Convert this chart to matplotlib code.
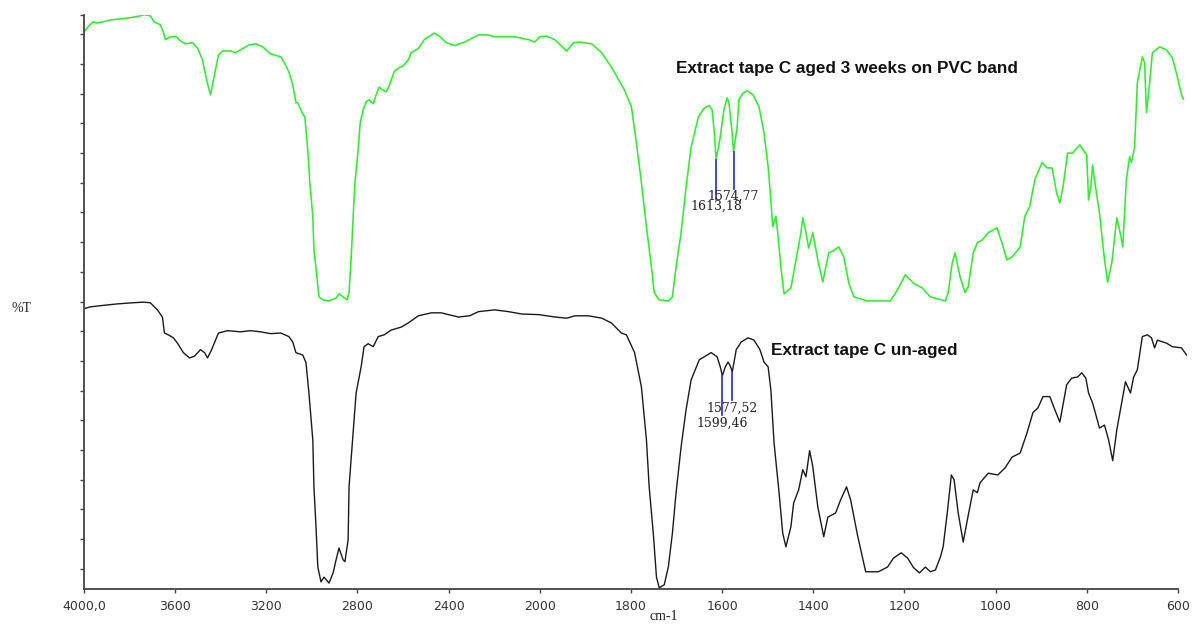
import numpy as np
import matplotlib
matplotlib.use("Agg")
import matplotlib.pyplot as plt

# wavenumber (cm-1) and %T
aged_wn = [4000, 3982, 3960, 3943, 3916, 3885, 3841, 3797, 3753, 3736, 3709, 3692, 3665, 3652, 3643,
           3621, 3595, 3577, 3555, 3524, 3502, 3480, 3462, 3445, 3427, 3410, 3392, 3357, 3335, 3313,
           3277, 3247, 3216, 3181, 3136, 3123, 3101, 3084, 3070, 3062, 3044, 3031, 3018, 3009, 2996,
           2991, 2978, 2969, 2951, 2925, 2894, 2881, 2863, 2846, 2837, 2828, 2819, 2811, 2797, 2788,
           2775, 2762, 2749, 2731, 2718, 2705, 2687, 2674, 2661, 2639, 2621, 2599, 2577, 2564, 2533,
           2507, 2463, 2441, 2410, 2374, 2330, 2269, 2225, 2198, 2145, 2110, 2048, 2022, 2000, 1985,
           1967, 1941, 1926, 1913, 1886, 1864, 1843, 1814, 1799, 1788, 1777, 1766, 1755, 1749, 1738,
           1718, 1709, 1701, 1690, 1679, 1668, 1652, 1639, 1628, 1622, 1617, 1613.18, 1605, 1596, 1589,
           1585, 1578, 1574.77, 1567, 1563, 1554, 1545, 1532, 1519, 1508, 1499, 1493, 1489, 1482, 1478,
           1471, 1464, 1449, 1438, 1427, 1423, 1416, 1410, 1401, 1390, 1379, 1366, 1357, 1344, 1333,
           1322, 1311, 1281, 1252, 1231, 1215, 1198, 1180, 1161, 1143, 1110, 1104, 1095, 1089, 1078,
           1067, 1060, 1049, 1040, 1029, 1016, 997, 986, 975, 964, 946, 936, 925, 914, 898,
           887, 876, 866, 859, 852, 842, 831, 815, 800, 796, 791, 787, 783, 772, 761,
           754, 745, 734, 728, 721, 713, 706, 702, 695, 689, 678, 673, 669, 662, 656,
           640, 625, 612, 601, 592, 588]
aged_t = [95.4, 96.3, 97.1, 96.9, 97.1, 97.4, 97.6, 97.8, 98.1, 98.3, 98.1, 97.1, 96.6, 95.4, 94.1,
          94.6, 94.6, 93.9, 93.4, 93.6, 92.7, 90.7, 87.3, 84.8, 88.2, 91.5, 92.2, 92.2, 91.9, 92.4,
          93.2, 93.4, 92.9, 91.7, 91.2, 90.4, 88.7, 86.5, 83.5, 83.5, 81.9, 81.1, 75.5, 70.0, 64.3,
          58.7, 54.2, 50.8, 50.3, 50.1, 50.6, 51.3, 50.8, 50.3, 51.5, 57.0, 64.3, 70.0, 75.5, 80.1,
          82.3, 83.6, 84.0, 83.3, 84.8, 86.1, 85.6, 85.3, 86.3, 88.7, 89.3, 89.7, 90.7, 91.9, 92.6,
          94.1, 95.2, 94.7, 93.6, 93.1, 93.7, 94.9, 94.9, 94.6, 94.6, 94.6, 94.1, 93.7, 94.6, 94.7,
          94.1, 92.2, 93.6, 93.7, 93.4, 91.9, 89.5, 85.6, 82.8, 76.7, 70.0, 62.6, 55.8, 51.5, 50.3,
          50.1, 50.8, 55.8, 61.6, 69.3, 76.0, 81.1, 82.6, 83.0, 82.3, 78.4, 73.9, 77.2, 82.3, 84.3,
          83.5, 78.4, 75.2, 79.4, 84.0, 85.1, 85.5, 84.8, 82.8, 78.4, 72.7, 67.1, 62.6, 64.4, 61.6,
          55.8, 51.3, 52.3, 57.0, 61.6, 64.1, 61.6, 59.0, 61.6, 57.0, 53.3, 58.2, 58.5, 59.2, 57.5,
          53.1, 50.8, 50.1, 50.1, 50.1, 52.0, 54.5, 53.1, 52.3, 50.8, 50.1, 51.5, 56.5, 58.2, 54.2,
          51.5, 52.5, 58.2, 59.9, 60.4, 61.6, 62.4, 59.9, 57.0, 57.5, 59.2, 64.3, 66.0, 70.5, 73.4,
          72.5, 72.5, 68.3, 66.6, 69.3, 75.0, 75.0, 76.4, 74.7, 67.1, 69.3, 73.0, 70.5, 64.9, 57.0,
          53.3, 56.5, 64.1, 62.1, 59.2, 70.5, 74.4, 73.4, 76.0, 86.8, 91.2, 90.2, 81.8, 86.8, 91.9,
          92.9, 92.4, 91.0, 87.8, 84.8, 84.1]

unaged_wn = [4000, 3973, 3929, 3855, 3784, 3740, 3709, 3678, 3656, 3647, 3630, 3608, 3590, 3564, 3537,
             3515, 3489, 3471, 3458, 3440, 3410, 3370, 3313, 3269, 3225, 3181, 3136, 3101, 3084, 3070,
             3040, 3026, 3013, 2996, 2991, 2982, 2974, 2960, 2947, 2925, 2907, 2894, 2881, 2863, 2855,
             2841, 2837, 2819, 2806, 2784, 2771, 2753, 2731, 2709, 2683, 2652, 2608, 2577, 2533, 2476,
             2432, 2401, 2357, 2308, 2269, 2198, 2137, 2079, 2004, 1967, 1941, 1923, 1893, 1864, 1843,
             1821, 1810, 1792, 1777, 1766, 1760, 1751, 1744, 1738, 1727, 1718, 1709, 1701, 1690, 1679,
             1668, 1650, 1624, 1611, 1604, 1599.46, 1593, 1587, 1583, 1577.52, 1569, 1558, 1543, 1530, 1517,
             1508, 1499, 1493, 1486, 1475, 1467, 1460, 1449, 1443, 1432, 1423, 1416, 1408, 1401, 1390,
             1377, 1368, 1351, 1340, 1327, 1318, 1303, 1285, 1257, 1237, 1224, 1207, 1193, 1180, 1167,
             1154, 1143, 1132, 1121, 1115, 1106, 1097, 1091, 1082, 1071, 1062, 1049, 1040, 1034, 1016,
             995, 979, 964, 946, 931, 918, 907, 896, 881, 870, 859, 844, 833, 820, 811,
             802, 796, 787, 772, 761, 752, 743, 734, 726, 715, 704, 697, 689, 678, 667,
             658, 651, 645, 625, 612, 592, 581]
unaged_t = [48.8, 49.1, 49.3, 49.6, 49.8, 49.9, 49.8, 48.6, 47.4, 44.7, 44.4, 43.9, 43.0, 41.4, 40.5,
            40.8, 41.9, 41.4, 40.5, 41.9, 44.7, 45.1, 44.9, 45.1, 44.9, 44.6, 44.7, 44.1, 43.2, 41.4,
            41.0, 39.7, 34.6, 26.7, 18.8, 12.1, 5.3, 2.8, 3.6, 2.6, 4.3, 6.5, 8.5, 6.5, 6.2,
            9.9, 18.8, 27.9, 34.6, 39.0, 42.4, 42.9, 42.4, 44.1, 44.4, 45.2, 45.7, 46.4, 47.6, 48.1,
            48.1, 47.8, 47.4, 47.6, 48.3, 48.6, 48.3, 47.9, 47.8, 47.4, 47.2, 47.6, 47.6, 47.2, 46.4,
            44.7, 44.4, 41.4, 35.6, 26.7, 18.8, 11.0, 3.6, 1.8, 2.3, 5.3, 11.0, 17.8, 25.5, 31.8,
            36.8, 40.2, 41.4, 40.7, 39.0, 37.5, 39.0, 39.8, 39.3, 38.2, 41.9, 43.2, 43.9, 43.5, 41.9,
            39.8, 39.0, 35.1, 26.2, 17.8, 11.0, 8.7, 12.1, 16.1, 18.3, 21.7, 20.5, 24.9, 22.2, 15.4,
            10.4, 13.7, 14.4, 16.6, 18.8, 16.6, 10.7, 4.5, 4.5, 5.3, 6.8, 7.7, 6.8, 5.2, 4.3,
            5.3, 4.5, 4.8, 7.0, 8.7, 14.4, 20.8, 20.0, 14.4, 9.5, 13.2, 18.3, 17.8, 19.5, 21.1,
            20.8, 22.0, 23.8, 24.5, 27.9, 31.3, 32.1, 34.0, 34.0, 31.8, 29.7, 36.0, 37.1, 37.3, 38.0,
            37.1, 34.6, 32.9, 28.7, 29.2, 26.7, 23.2, 28.4, 31.8, 36.5, 34.6, 37.3, 38.5, 44.1, 44.4,
            43.9, 42.2, 43.5, 43.0, 42.4, 42.2, 41.0]

# marked peaks: (wavenumber, %T where the marker line ends, label)
aged_peaks = [(1613.18, 67.3, "1613,18"), (1574.77, 69.0, "1574,77")]
unaged_peaks = [(1599.46, 30.9, "1599,46"), (1577.52, 33.4, "1577,52")]

xticks = [4000, 3600, 3200, 2800, 2400, 2000, 1800, 1600, 1400, 1200, 1000, 800, 600]
xticklabels = ["4000,0", "3600", "3200", "2800", "2400", "2000", "1800", "1600", "1400",
               "1200", "1000", "800", "600"]


# instrument-style axis: above 2000 cm-1 the scale is compressed by half
def fwd(x):
    x = np.asarray(x, dtype=float)
    return np.where(x > 2000, 2000 + (x - 2000) / 2.0, x)


def inv(y):
    y = np.asarray(y, dtype=float)
    return np.where(y > 2000, 2000 + (y - 2000) * 2.0, y)


fig = plt.figure(figsize=(11.95, 6.24), dpi=100)
ax = fig.add_axes([84 / 1195, 35 / 624, (1187 - 84) / 1195, (589 - 14.7) / 624])
ax.set_xscale("function", functions=(fwd, inv))

ax.plot(aged_wn, aged_t, color="#2af22a", lw=1.15)
ax.plot(unaged_wn, unaged_t, color="#1a1a1a", lw=1.0)

for wn, end, lab in aged_peaks:
    top = np.interp(wn, aged_wn[::-1], aged_t[::-1])
    ax.plot([wn, wn], [top, end], color="#2222ee", lw=1.2)
    ax.annotate(lab, (wn, end), xytext=(0, -1), textcoords="offset points",
                ha="center", va="top", fontsize=9, family="DejaVu Serif", color="#222222")
for wn, end, lab in unaged_peaks:
    top = np.interp(wn, unaged_wn[::-1], unaged_t[::-1])
    ax.plot([wn, wn], [top, end], color="#2222ee", lw=1.2)
    ax.annotate(lab, (wn, end), xytext=(0, -1), textcoords="offset points",
                ha="center", va="top", fontsize=9, family="DejaVu Serif", color="#222222")

ax.text(1702, 89.2, "Extract tape C aged 3 weeks on PVC band", fontsize=12.3, fontweight="bold",
        family="Liberation Sans", color="#111111", va="center")
ax.text(1492, 41.7, "Extract tape C un-aged", fontsize=12.3, fontweight="bold",
        family="Liberation Sans", color="#111111", va="center")

ax.set_xlim(4000, 580)
ax.set_ylim(1.6, 98.3)
ax.set_xticks(xticks)
ax.set_xticklabels(xticklabels)
ax.set_yticks(list(np.arange(5, 100, 5)) + [98.3])
ax.set_yticklabels([])
ax.xaxis.set_minor_locator(matplotlib.ticker.NullLocator())

for s in ["top", "right"]:
    ax.spines[s].set_visible(False)
for s in ["left", "bottom"]:
    ax.spines[s].set_color("#444444")
    ax.spines[s].set_linewidth(1.3)
ax.spines["bottom"].set_bounds(4000, 600)
ax.tick_params(axis="both", direction="out", length=3, width=1.0, color="#444444")
ax.tick_params(axis="x", labelsize=9, labelcolor="#333333", pad=5)

fig.text(12 / 1195, 1 - 308 / 624, "%T", fontsize=10, family="Liberation Serif", va="center", color="#222222")
fig.text(664 / 1195, 1 - 617 / 624, "cm-1", fontsize=10, family="Liberation Serif", ha="center", va="center",
         color="#222222")

fig.savefig("out.png", dpi=100)
